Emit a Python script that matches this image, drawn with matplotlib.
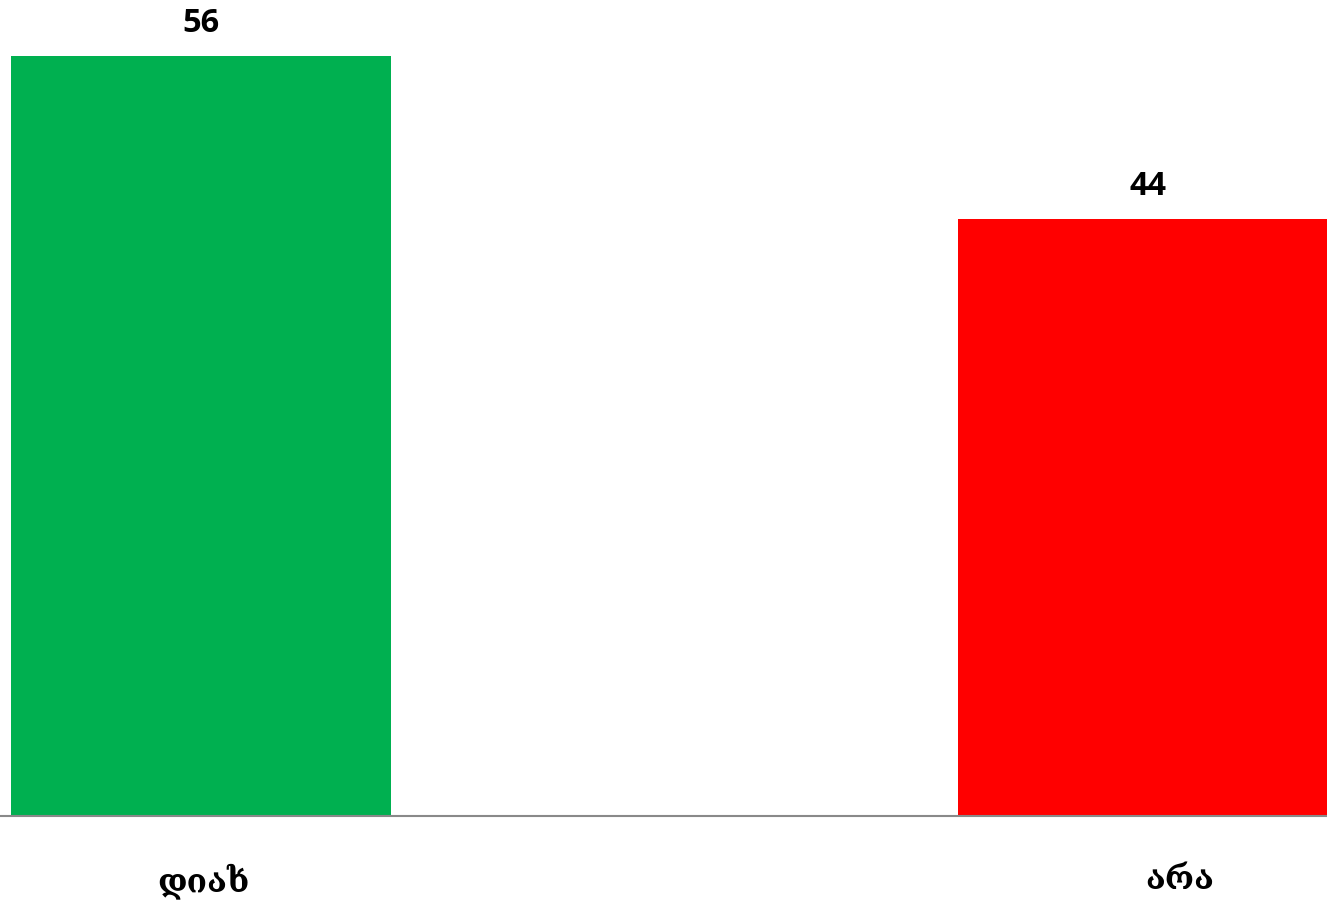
import numpy as np
import matplotlib.pyplot as plt

# data
categories = ['დიახ', 'არა']
values = [56, 44]
colors = ['#00B050', '#FF0000']

fig = plt.figure(figsize=(13.27, 9.02), dpi=100)
# axes: bottom at axis line (y=816 px), fill width
ax = fig.add_axes([0, (902 - 816) / 902, 1, 816 / 902])

x = np.arange(len(categories))
bars = ax.bar(x, values, width=0.401, color=colors)

ax.set_ylim(0, 60.13)
ax.set_xlim(-201 / 947, (1327 - 201) / 947)

for b, v in zip(bars, values):
    ax.text(b.get_x() + b.get_width() / 2, v + 1.15, str(v), ha='center', va='bottom',
            fontsize=23.5, fontweight='bold', family=['Open Sans', 'DejaVu Sans'])

# category labels sit a bit right of the bar centres in the original
ax.set_xticks(x + np.array([0.003, 0.034]))
ax.set_xticklabels(categories, fontsize=24, fontweight='bold',
                   family=['DejaVu Serif', 'DejaVu Sans'])
ax.tick_params(axis='x', length=0, pad=34)
ax.set_yticks([])

for s in ['top', 'right', 'left']:
    ax.spines[s].set_visible(False)
ax.spines['bottom'].set_color('#898989')
ax.spines['bottom'].set_linewidth(1.5)

fig.savefig('out.png', dpi=100)
